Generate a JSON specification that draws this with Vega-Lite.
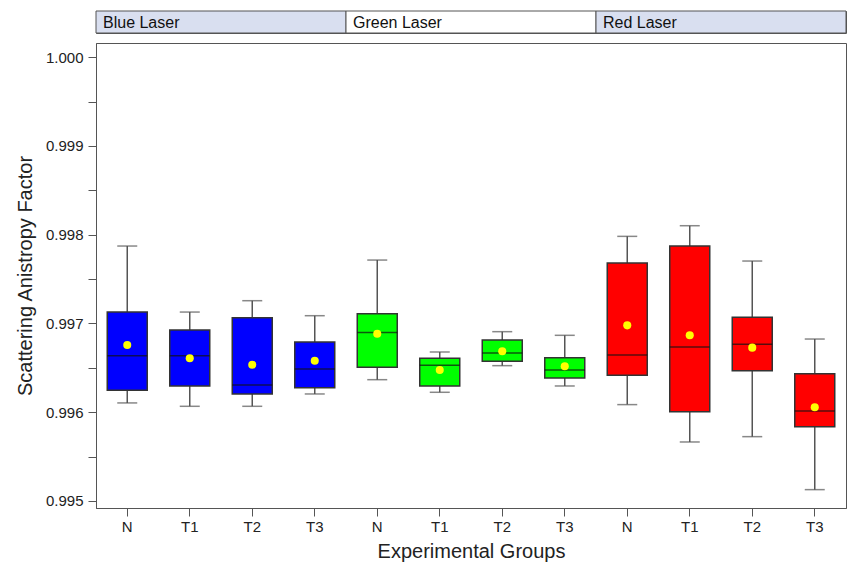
{
  "$schema": "https://vega.github.io/schema/vega-lite/v6.json",
  "padding": {"left": 14, "top": 10, "right": 1, "bottom": 2},
  "config": {"font": "Liberation Sans", "view": {"stroke": "#555", "strokeWidth": 1}, "concat": {"spacing": 8}},
  "datasets": {
    "stats": [
      {"key": "B:N", "laser": "Blue Laser", "lo": 0.996104, "q1": 0.996246, "med": 0.996636, "q3": 0.997128, "hi": 0.997872, "mean": 0.996757},
      {"key": "B:T1", "laser": "Blue Laser", "lo": 0.996066, "q1": 0.996295, "med": 0.996636, "q3": 0.996926, "hi": 0.997128, "mean": 0.996607},
      {"key": "B:T2", "laser": "Blue Laser", "lo": 0.996066, "q1": 0.996205, "med": 0.996306, "q3": 0.997064, "hi": 0.997256, "mean": 0.996535},
      {"key": "B:T3", "laser": "Blue Laser", "lo": 0.996205, "q1": 0.996276, "med": 0.996486, "q3": 0.996791, "hi": 0.997087, "mean": 0.99658},
      {"key": "G:N", "laser": "Green Laser", "lo": 0.996366, "q1": 0.996505, "med": 0.996899, "q3": 0.99711, "hi": 0.997714, "mean": 0.996884},
      {"key": "G:T1", "laser": "Green Laser", "lo": 0.996224, "q1": 0.996295, "med": 0.996528, "q3": 0.996607, "hi": 0.996678, "mean": 0.996475},
      {"key": "G:T2", "laser": "Green Laser", "lo": 0.996524, "q1": 0.996573, "med": 0.996667, "q3": 0.996813, "hi": 0.996907, "mean": 0.996686},
      {"key": "G:T3", "laser": "Green Laser", "lo": 0.996295, "q1": 0.996385, "med": 0.996475, "q3": 0.996614, "hi": 0.996866, "mean": 0.996517},
      {"key": "R:N", "laser": "Red Laser", "lo": 0.996085, "q1": 0.996415, "med": 0.996644, "q3": 0.99768, "hi": 0.997981, "mean": 0.996978},
      {"key": "R:T1", "laser": "Red Laser", "lo": 0.995664, "q1": 0.996006, "med": 0.996734, "q3": 0.997872, "hi": 0.998101, "mean": 0.996866},
      {"key": "R:T2", "laser": "Red Laser", "lo": 0.995724, "q1": 0.996468, "med": 0.996764, "q3": 0.997069, "hi": 0.997703, "mean": 0.996727},
      {"key": "R:T3", "laser": "Red Laser", "lo": 0.995127, "q1": 0.995837, "med": 0.996014, "q3": 0.996434, "hi": 0.996824, "mean": 0.996055}
    ]
  },
  "vconcat": [
    {
      "width": 750,
      "height": 22,
      "data": {"values": [{"laser": "Blue Laser"}, {"laser": "Green Laser"}, {"laser": "Red Laser"}]},
      "encoding": {
        "x": {"field": "laser", "type": "nominal", "sort": null, "axis": null, "scale": {"paddingInner": 0, "paddingOuter": 0}}
      },
      "layer": [
        {
          "mark": {"type": "rect", "stroke": "#555", "strokeWidth": 1},
          "encoding": {
            "fill": {"field": "laser", "type": "nominal", "legend": null, "scale": {"domain": ["Blue Laser", "Green Laser", "Red Laser"], "range": ["#d9dff0", "#ffffff", "#d9dff0"]}}
          }
        },
        {
          "mark": {"type": "text", "align": "left", "baseline": "middle", "dx": 7, "dy": 1, "fontSize": 16, "color": "#111"},
          "encoding": {
            "x": {"field": "laser", "type": "nominal", "sort": null, "bandPosition": 0, "axis": null},
            "text": {"field": "laser"}
          }
        }
      ]
    },
    {
      "width": 750,
      "height": 465,
      "data": {"name": "stats"},
      "encoding": {
        "x": {
          "field": "key", "type": "nominal", "sort": null,
          "scale": {"paddingInner": 0, "paddingOuter": 0},
          "axis": {
            "title": "Experimental Groups", "labelExpr": "split(datum.value, ':')[1]", "labelAngle": 0,
            "labelFontSize": 15, "labelColor": "#222", "titleFontSize": 20, "titleFontWeight": "normal", "titleColor": "#222",
            "tickSize": 8, "tickColor": "#555", "domainColor": "#555", "labelPadding": 3, "titlePadding": 7
          }
        }
      },
      "layer": [
        {
          "mark": {"type": "rule", "color": "#555", "strokeWidth": 1.5},
          "encoding": {
            "y": {
              "field": "lo", "type": "quantitative",
              "scale": {"domain": [0.99492, 1.00016], "nice": false, "zero": false},
              "axis": {
                "title": "Scattering Anistropy Factor",
                "values": [0.995, 0.9955, 0.996, 0.9965, 0.997, 0.9975, 0.998, 0.9985, 0.999, 0.9995, 1.0],
                "labelExpr": "round(datum.value * 10000) % 10 == 0 ? format(datum.value, '.3f') : ''",
                "grid": false, "tickSize": 8, "tickColor": "#555", "domainColor": "#555",
                "labelFontSize": 15, "labelColor": "#222", "labelPadding": 5,
                "titleFontSize": 20, "titleFontWeight": "normal", "titleColor": "#222", "titlePadding": 10
              }
            },
            "y2": {"field": "hi"}
          }
        },
        {
          "mark": {"type": "bar", "size": 40, "stroke": "#333", "strokeWidth": 1.5},
          "encoding": {
            "y": {"field": "q1", "type": "quantitative"},
            "y2": {"field": "q3"},
            "color": {"field": "laser", "type": "nominal", "legend": null, "scale": {"domain": ["Blue Laser", "Green Laser", "Red Laser"], "range": ["#0000ff", "#00ff00", "#ff0000"]}}
          }
        },
        {
          "mark": {"type": "tick", "size": 40, "thickness": 1.5, "color": "#111"},
          "encoding": {"y": {"field": "med", "type": "quantitative"}}
        },
        {
          "mark": {"type": "tick", "size": 20, "thickness": 1.5, "color": "#555"},
          "encoding": {"y": {"field": "lo", "type": "quantitative"}}
        },
        {
          "mark": {"type": "tick", "size": 20, "thickness": 1.5, "color": "#555"},
          "encoding": {"y": {"field": "hi", "type": "quantitative"}}
        },
        {
          "mark": {"type": "point", "filled": true, "size": 65, "color": "#ffff00", "opacity": 1},
          "encoding": {"y": {"field": "mean", "type": "quantitative"}}
        }
      ]
    }
  ]
}
